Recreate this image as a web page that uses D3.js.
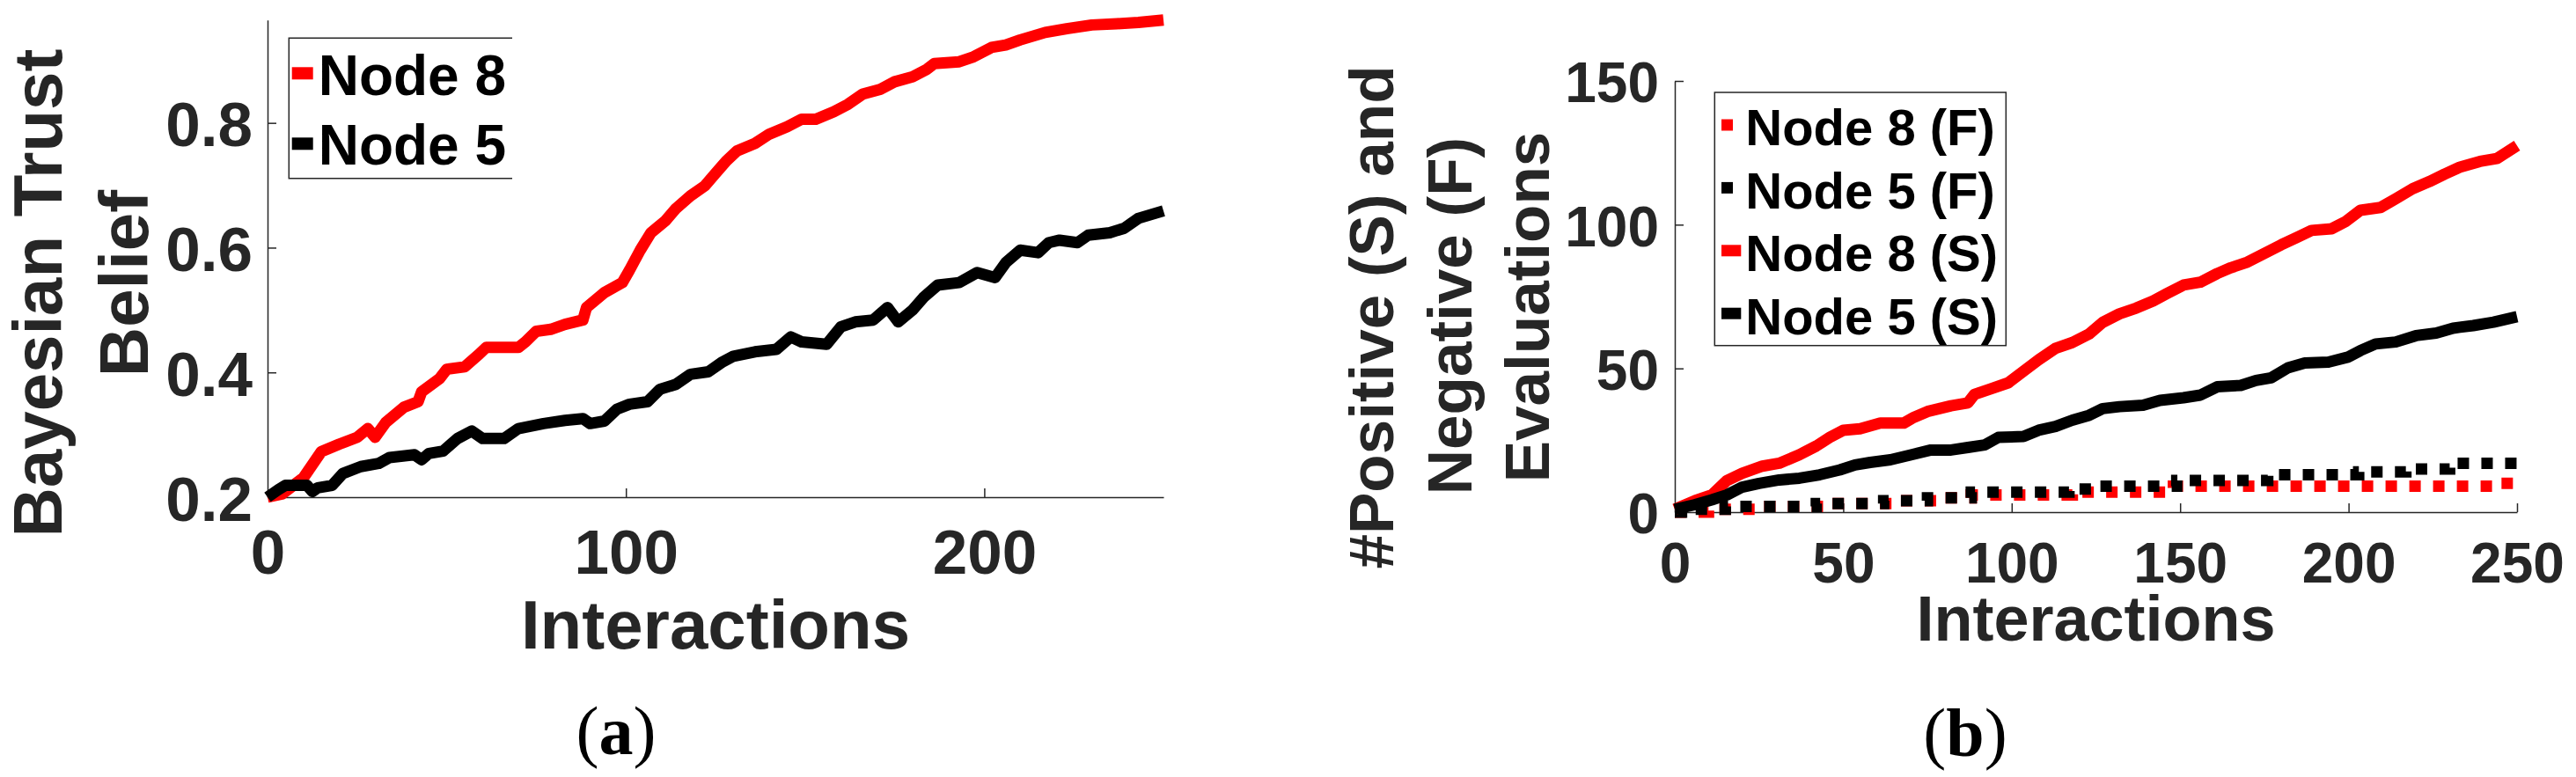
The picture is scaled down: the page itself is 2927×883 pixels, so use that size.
<!DOCTYPE html>
<html><head><meta charset="utf-8">
<script src="https://cdn.jsdelivr.net/npm/d3@7"></script>
<style>html,body{margin:0;padding:0;background:#fff;} svg{display:block;}</style>
</head><body>
<script>
// ---------- DATA ----------
// Panel (a): Bayesian trust belief vs interactions
const interactionsNode8A = [0,4,10,15,20,25,28,30,33,38,42,43,48,50,55,59,61,70,72,75,79,83,88,89,94,99,101,104,107,111,114,118,122,125,128,131,136,140,145,149,153,158,162,166,171,175,180,184,186,193,197,202,206,210,217,223,230,237,243,250];
const beliefNode8 = [0.2,0.205,0.231,0.273,0.285,0.296,0.31,0.296,0.32,0.344,0.353,0.369,0.39,0.405,0.409,0.429,0.44,0.44,0.449,0.466,0.469,0.477,0.484,0.504,0.528,0.544,0.564,0.596,0.624,0.643,0.663,0.683,0.699,0.719,0.739,0.755,0.767,0.782,0.794,0.806,0.806,0.818,0.83,0.846,0.854,0.866,0.874,0.886,0.895,0.898,0.906,0.921,0.925,0.933,0.945,0.951,0.957,0.959,0.961,0.965];
const interactionsNode5A = [0,3,5,11,12.5,14,18,21,26,31,34,41,43,45,49,53,57,60,66,70,77,83,88,90,94,97.5,101,106,109.5,114,118,123,127,130,136,142,146,149,156,160,164,169,173,176,180,183,187,193,198,203,206,210,215,218,221,226,229,235,239,243,250];
const beliefNode5 = [0.2,0.212,0.219,0.219,0.209,0.215,0.219,0.238,0.249,0.254,0.2635,0.268,0.26,0.27,0.274,0.294,0.306,0.294,0.294,0.31,0.318,0.323,0.326,0.318,0.322,0.341,0.349,0.353,0.373,0.381,0.397,0.401,0.417,0.426,0.433,0.437,0.457,0.449,0.445,0.473,0.481,0.484,0.504,0.481,0.5,0.52,0.54,0.544,0.56,0.552,0.576,0.596,0.592,0.608,0.612,0.608,0.62,0.624,0.631,0.647,0.659];
const xTicksA = [0,100,200];
const yTicksA = [0.2,0.4,0.6,0.8];
const yTickLabelsA = ["0.2","0.4","0.6","0.8"];
const legendA = ["Node 8","Node 5"];

// Panel (b): positive (S) and negative (F) evaluations
const interactionsS8 = [0,6,11,15.5,20,26,31,37,42,46,50,55,61,68,71,75,82,87,89,94,99,103.5,108,113,118,123,127,132,137,142,146,151,156,161,165,170,175,180,184.5,189,195,199,203.5,209.5,214,219,224,228.5,233,239,244,250];
const positiveNode8 = [1,4,6,11,13.5,16,17,20,23,26,28.5,29,31,31,33,35,37,38,41,43,45,49,53,57,59,62,66,69,71,73.5,76,79,80,83,85,87,90,93,95.5,98,98.6,101,105,106,109,112.5,115,117.6,120,122,123,127.5];
const interactionsS5 = [0,6,11,15.5,20,25,31,37,43,49,53.5,58,64,70,76,82,87,92,96,103.5,108,113,118,123,127,132,139,144,151,156,161,168,172.5,177,182,187,194,200,203.5,208,214,220,226,231,237,243,250];
const positiveNode5 = [1,2.6,4.3,6,8.7,10,11.2,11.8,13,14.7,16.4,17.3,18.2,19.9,21.6,21.6,22.5,23.4,26,26.3,28.5,29.8,32,33.7,36,36.7,37.2,38.9,39.8,40.7,43.6,44.1,45.8,46.7,50.2,51.9,52.2,54,56.2,58.5,59.2,61.4,62.3,64,64.9,66.1,68];
const interactionsF8 = [0,10,25,45,65,80,88,118,148,245,250];
const negativeNode8 = [0,1,2,3,4,5,6,7,9,10,10];
const interactionsF5 = [0,2,15,42,62,75,88,117,124,149,176,203,217,230,250];
const negativeNode5 = [0,1,2,3,4,5,7,8,9,11,13,14,15,17,17];
const xTicksB = [0,50,100,150,200,250];
const yTicksB = [0,50,100,150];
const legendB = ["Node 8 (F)","Node 5 (F)","Node 8 (S)","Node 5 (S)"];

// ---------- DRAW ----------
const W = 2927, H = 883;
const AX = "#262626";
const FONT = "'Liberation Sans', Arial, Helvetica, sans-serif";
const svg = d3.select("body").append("svg").attr("width", W).attr("height", H)
  .style("background", "#fff").attr("font-family", FONT);

function zip(xs, ys){ return xs.map((x,i)=>[x, ys[i]]); }

function styleAxis(g, size){
  g.select(".domain").attr("stroke", AX).attr("stroke-width", 1.5);
  g.selectAll(".tick line").attr("stroke", AX).attr("stroke-width", 1.5);
  g.selectAll(".tick text").attr("fill", AX).attr("font-size", size).attr("font-weight", "bold")
    .attr("font-family", FONT);
}

// ===== Panel (a) =====
{
  const L=304, R=1322, T=22.7, B=565;
  const x = d3.scaleLinear().domain([0,250]).range([L,R]);
  const y = d3.scaleLinear().domain([0.2,0.965]).range([B,T]);

  const gx = svg.append("g").attr("transform",`translate(0,${B})`)
    .call(d3.axisBottom(x).tickValues(xTicksA).tickSizeInner(-10).tickSizeOuter(0).tickFormat(d3.format("d")));
  styleAxis(gx, 71);
  gx.selectAll(".tick text").attr("y", 87).attr("dy", null);
  gx.selectAll(".tick").filter(d=>d===0).select("line").remove();

  const gy = svg.append("g").attr("transform",`translate(${L},0)`)
    .call(d3.axisLeft(y).tickValues(yTicksA).tickSizeInner(-10).tickSizeOuter(0)
      .tickFormat((d,i)=>yTickLabelsA[i]).tickPadding(17));
  styleAxis(gy, 71);
  gy.selectAll(".tick text").attr("dy", "0.37em");
  gy.selectAll(".tick").filter(d=>d===0.2).select("line").remove();

  const line = d3.line().x(d=>x(d[0])).y(d=>y(d[1]));
  svg.append("path").datum(zip(interactionsNode8A, beliefNode8)).attr("d", line)
    .attr("fill","none").attr("stroke","#ff0000").attr("stroke-width",13).attr("stroke-linejoin","round");
  svg.append("path").datum(zip(interactionsNode5A, beliefNode5)).attr("d", line)
    .attr("fill","none").attr("stroke","#000").attr("stroke-width",13).attr("stroke-linejoin","round");

  // legend (right edge open, as in reference)
  svg.append("path").attr("d","M582,43.3H328.3V202.7H582").attr("fill","none").attr("stroke",AX).attr("stroke-width",1.5);
  const colsA = ["#ff0000","#000"];
  legendA.forEach((t,i)=>{
    const cy = 83.3 + i*80;
    svg.append("line").attr("x1",331.7).attr("x2",355.7).attr("y1",cy).attr("y2",cy)
      .attr("stroke",colsA[i]).attr("stroke-width",14);
    svg.append("text").attr("x",361.7).attr("y",108.3 + i*78.4).attr("font-size",64)
      .attr("font-weight","bold").attr("fill","#000").text(t);
  });

  // axis labels
  svg.append("text").attr("x",(L+R)/2).attr("y",736.7).attr("text-anchor","middle")
    .attr("font-size",78).attr("font-weight","bold").attr("fill",AX).text("Interactions");
  svg.append("text").attr("transform","translate(70,333) rotate(-90)").attr("text-anchor","middle")
    .attr("font-size",78).attr("font-weight","bold").attr("fill",AX).text("Bayesian Trust");
  svg.append("text").attr("transform","translate(168,322) rotate(-90)").attr("text-anchor","middle")
    .attr("font-size",78).attr("font-weight","bold").attr("fill",AX).text("Belief");

  // caption
  const cap = svg.append("text").attr("x",700).attr("y",857).attr("text-anchor","middle")
    .attr("font-family","'Liberation Serif','Times New Roman',serif").attr("font-size",78).attr("fill","#000");
  cap.append("tspan").text("(");
  cap.append("tspan").attr("font-weight","bold").text("a");
  cap.append("tspan").text(")");
}

// ===== Panel (b) =====
{
  const L=1903, R=2860, T=92, B=582;
  const x = d3.scaleLinear().domain([0,250]).range([L,R]);
  const y = d3.scaleLinear().domain([0,150]).range([B,T]);

  const gx = svg.append("g").attr("transform",`translate(0,${B})`)
    .call(d3.axisBottom(x).tickValues(xTicksB).tickSizeInner(-10).tickSizeOuter(0).tickFormat(d3.format("d")));
  styleAxis(gx, 64);
  gx.selectAll(".tick text").attr("y", 80).attr("dy", null);
  gx.selectAll(".tick").filter(d=>d===0).select("line").remove();

  const gy = svg.append("g").attr("transform",`translate(${L},0)`)
    .call(d3.axisLeft(y).tickValues(yTicksB).tickSizeInner(-10).tickSizeOuter(0)
      .tickFormat(d3.format("d")).tickPadding(18));
  styleAxis(gy, 64);
  gy.selectAll(".tick text").attr("dy", "0.37em");
  gy.selectAll(".tick").filter(d=>d===0).select("line").remove();

  const stepLine = d3.line().curve(d3.curveStepAfter).x(d=>x(d[0])).y(d=>y(d[1]));
  const line = d3.line().x(d=>x(d[0])).y(d=>y(d[1]));
  svg.append("path").datum(zip(interactionsF8, negativeNode8)).attr("d", stepLine)
    .attr("fill","none").attr("stroke","#ff0000").attr("stroke-width",13).attr("stroke-dasharray","13 14");
  svg.append("path").datum(zip(interactionsF5, negativeNode5)).attr("d", stepLine)
    .attr("fill","none").attr("stroke","#000").attr("stroke-width",13).attr("stroke-dasharray","13 14");
  svg.append("path").datum(zip(interactionsS8, positiveNode8)).attr("d", line)
    .attr("fill","none").attr("stroke","#ff0000").attr("stroke-width",13).attr("stroke-linejoin","round");
  svg.append("path").datum(zip(interactionsS5, positiveNode5)).attr("d", line)
    .attr("fill","none").attr("stroke","#000").attr("stroke-width",13).attr("stroke-linejoin","round");

  // legend
  svg.append("rect").attr("x",1948.3).attr("y",105).attr("width",331).attr("height",287.7)
    .attr("fill","#fff").attr("stroke",AX).attr("stroke-width",1.5);
  const colsB = ["#ff0000","#000","#ff0000","#000"];
  const dotted = [true,true,false,false];
  legendB.forEach((t,i)=>{
    const cy = 142 + i*71.4;
    svg.append("line").attr("x1",1956).attr("x2", dotted[i] ? 1969 : 1978.3).attr("y1",cy).attr("y2",cy)
      .attr("stroke",colsB[i]).attr("stroke-width",13);
    svg.append("text").attr("x",1983.3).attr("y",165 + i*71.5).attr("font-size",58)
      .attr("font-weight","bold").attr("fill","#000").text(t);
  });

  // axis labels
  svg.append("text").attr("x",(L+R)/2).attr("y",728).attr("text-anchor","middle")
    .attr("font-size",72).attr("font-weight","bold").attr("fill",AX).text("Interactions");
  const yl = [["#Positive (S) and",1582.7,360.5],["Negative (F)",1671.7,359],["Evaluations",1760,349]];
  yl.forEach(([t,bx,cy])=>{
    svg.append("text").attr("transform",`translate(${bx},${cy}) rotate(-90)`).attr("text-anchor","middle")
      .attr("font-size",71).attr("font-weight","bold").attr("fill",AX).text(t);
  });

  const cap = svg.append("text").attr("x",2233).attr("y",859).attr("text-anchor","middle")
    .attr("font-family","'Liberation Serif','Times New Roman',serif").attr("font-size",78).attr("fill","#000");
  cap.append("tspan").text("(");
  cap.append("tspan").attr("font-weight","bold").text("b");
  cap.append("tspan").text(")");
}
</script>
</body></html>
